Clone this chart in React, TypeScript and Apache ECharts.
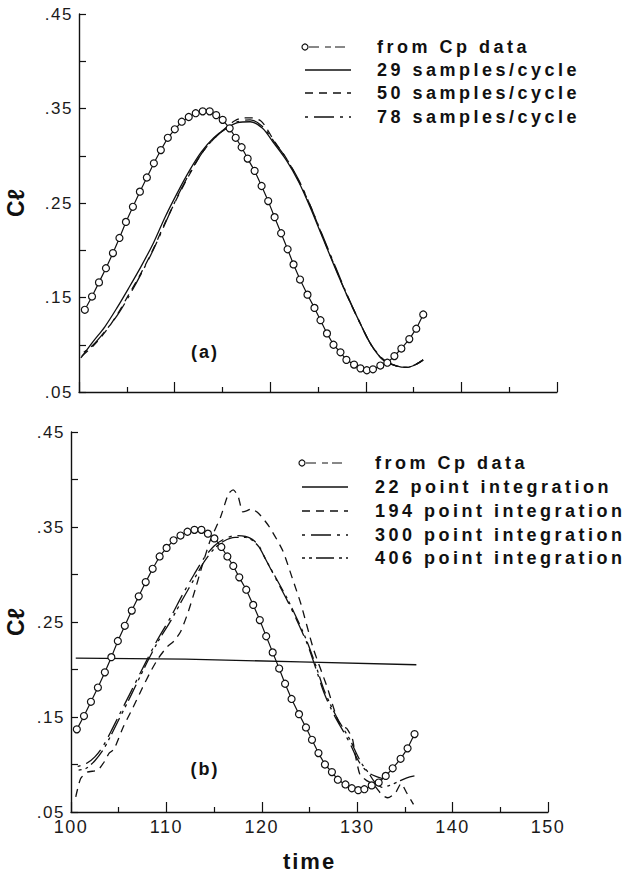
import React, { useEffect, useRef } from "react";
import * as echarts from "echarts";

// ---------- data ----------
const cpTime = [
  100.61, 101.36, 102.09, 102.82, 103.55, 104.23, 104.91, 105.64, 106.37, 107.1,
  107.83, 108.56, 109.29, 110.02, 110.75, 111.48, 112.21, 112.94, 113.67, 114.35,
  115.03, 115.76, 116.39, 117.01, 117.64, 118.37, 119.1, 119.79, 120.46, 121.14,
  121.82, 122.44, 123.12, 123.9, 124.63, 125.26, 125.94, 126.62, 127.35, 127.97,
  128.77, 129.44, 130.11, 130.75, 131.52, 132.25, 132.99, 133.72, 134.55, 135.28,
  136.01,
];
const cpValue = [
  0.137, 0.151, 0.166, 0.181, 0.197, 0.213, 0.23, 0.246, 0.262, 0.277,
  0.292, 0.306, 0.319, 0.328, 0.336, 0.341, 0.345, 0.347, 0.347, 0.343,
  0.338, 0.329, 0.319, 0.309, 0.297, 0.284, 0.268, 0.252, 0.235, 0.218,
  0.201, 0.185, 0.169, 0.153, 0.139, 0.126, 0.112, 0.1, 0.092, 0.084,
  0.079, 0.075, 0.073, 0.074, 0.078, 0.081, 0.088, 0.096, 0.106, 0.117,
  0.132,
];

const samples29 = [
  [100.2, 0.086], [101.45, 0.103], [102.7, 0.119], [103.97, 0.139], [105.2, 0.16],
  [106.5, 0.183], [107.8, 0.208], [109.0, 0.235], [110.3, 0.261], [111.6, 0.285],
  [112.8, 0.304], [114.1, 0.319], [115.4, 0.329], [116.6, 0.335], [117.9, 0.336],
  [119.2, 0.329], [120.4, 0.313], [121.7, 0.295], [123.0, 0.272], [124.2, 0.245],
  [125.5, 0.213], [126.8, 0.181], [128.0, 0.153], [129.3, 0.125], [130.5, 0.101],
  [131.8, 0.084], [133.1, 0.078], [134.3, 0.076], [135.2, 0.079], [136.0, 0.084],
];
const samples50 = [
  [100.3, 0.088], [101.5, 0.099], [102.7, 0.113], [104.0, 0.132], [105.2, 0.153],
  [106.5, 0.176], [107.8, 0.202], [109.0, 0.229], [110.3, 0.256], [111.6, 0.281],
  [112.8, 0.302], [114.1, 0.318], [115.4, 0.33], [116.3, 0.337], [117.2, 0.34],
  [118.2, 0.34], [119.0, 0.337], [119.5, 0.331], [120.4, 0.316], [121.7, 0.297],
  [123.0, 0.273], [124.2, 0.247], [125.5, 0.214], [126.8, 0.182], [128.0, 0.153],
  [129.3, 0.125], [130.5, 0.101], [131.8, 0.084], [133.1, 0.078], [134.3, 0.076],
  [135.2, 0.079], [136.0, 0.084],
];
const samples78 = [
  [100.5, 0.092], [101.5, 0.1], [102.7, 0.114], [104.0, 0.131], [105.2, 0.151],
  [106.5, 0.175], [107.8, 0.201], [109.0, 0.228], [110.3, 0.257], [111.6, 0.282],
  [112.8, 0.302], [114.1, 0.318], [115.4, 0.329], [116.6, 0.336], [117.9, 0.338],
  [119.2, 0.331], [120.4, 0.315], [121.7, 0.297], [123.0, 0.274], [124.2, 0.247],
  [125.5, 0.215], [126.8, 0.183], [128.0, 0.154], [129.3, 0.125], [130.5, 0.101],
  [131.8, 0.085], [133.1, 0.078], [134.3, 0.076], [135.2, 0.079], [136.0, 0.084],
];

const points22 = [[100.5, 0.212], [112.0, 0.211], [124.0, 0.208], [136.2, 0.205]];
const points194 = [
  [100.5, 0.066], [101.0, 0.085], [101.7, 0.092], [102.8, 0.094], [103.5, 0.103],
  [104.0, 0.112], [104.5, 0.116], [105.5, 0.14], [106.5, 0.16], [107.5, 0.181],
  [108.3, 0.197], [109.1, 0.211], [110.0, 0.223], [110.8, 0.23], [111.5, 0.24],
  [112.3, 0.261], [113.1, 0.287], [113.8, 0.311], [114.6, 0.336], [115.7, 0.361],
  [116.5, 0.385], [117.0, 0.389], [117.5, 0.383], [118.0, 0.366], [118.4, 0.367],
  [118.9, 0.369], [119.7, 0.364], [120.8, 0.35], [122.2, 0.325], [123.2, 0.296],
  [124.1, 0.269], [125.4, 0.222], [126.9, 0.18], [127.9, 0.148], [128.4, 0.14],
  [128.9, 0.138], [129.5, 0.127], [129.8, 0.11], [130.3, 0.089], [131.0, 0.083],
  [131.7, 0.079], [132.6, 0.068], [133.2, 0.065], [134.0, 0.07], [134.6, 0.08],
  [135.2, 0.07], [135.9, 0.058],
];
const points300 = [
  [100.7, 0.098], [101.6, 0.101], [102.5, 0.108], [103.4, 0.12], [104.2, 0.135],
  [104.9, 0.149], [106.3, 0.177], [107.8, 0.207], [109.1, 0.232], [110.5, 0.256],
  [111.7, 0.279], [112.9, 0.3], [114.0, 0.318], [115.0, 0.33], [116.0, 0.337],
  [117.2, 0.341], [118.3, 0.34], [119.0, 0.337], [119.7, 0.33], [120.4, 0.316],
  [121.5, 0.295], [122.7, 0.272], [123.8, 0.249], [124.8, 0.226], [125.7, 0.2],
  [126.5, 0.176], [127.2, 0.16], [127.9, 0.146], [128.6, 0.134], [129.3, 0.121],
  [130.0, 0.106], [130.7, 0.096], [131.4, 0.09], [132.1, 0.087], [132.7, 0.085],
];
const points406 = [
  [100.8, 0.094], [101.6, 0.096], [102.5, 0.104], [103.4, 0.116], [104.2, 0.131],
  [104.9, 0.145], [106.3, 0.173], [107.8, 0.204], [109.1, 0.229], [110.5, 0.252],
  [111.7, 0.274], [112.9, 0.295], [114.0, 0.314], [115.0, 0.327], [116.0, 0.335],
  [117.2, 0.339], [118.3, 0.339], [119.0, 0.336], [119.7, 0.329], [120.4, 0.316],
  [121.5, 0.296], [122.7, 0.274], [123.8, 0.251], [124.8, 0.228], [125.7, 0.203],
  [126.5, 0.179], [127.2, 0.163], [127.9, 0.149], [128.6, 0.137], [129.3, 0.125],
  [130.0, 0.11], [130.6, 0.099], [131.2, 0.091], [131.8, 0.082], [132.6, 0.076],
  [133.4, 0.078], [134.3, 0.082], [135.2, 0.086], [136.0, 0.088],
];

const topLegendLabels = ["from Cp data", "29 samples/cycle", "50 samples/cycle", "78 samples/cycle"];
const bottomLegendLabels = [
  "from Cp data",
  "22 point integration",
  "194 point integration",
  "300 point integration",
  "406 point integration",
];
const panelLabels = ["(a)", "(b)"];
const xAxisName = "time";
const yAxisName = "Cℓ";

// ---------- styles ----------
const INK = "#111";
const LEGEND_FONT = "'Liberation Sans', legendfont";
const TICK_FONT = "'Liberation Sans', tickfont";
const NAME_FONT = "'Liberation Sans', namefont";

const SOLID: number[] | "solid" = "solid";
const DASH = [8, 6];
const DASH_LONG = [3, 6, 20, 6];
const DASH_DOT_LONG = [3, 4, 3, 4, 18, 5];
const CP_DASH = [10, 6, 6, 4];

const css = `
body { margin: 0; }
text[style*="legendfont"] { letter-spacing: 3.5px; }
text[style*="tickfont"] { letter-spacing: 1.5px; }
text[style*="namefont"] { letter-spacing: 2px; }
`;

function yLabel(v: number) {
  const k = Math.round(v * 100);
  if (k % 10 !== 5) return "";
  return (k / 100).toFixed(2).replace(/^0/, "");
}

function makeYAxis(gridIndex: number, gap: number) {
  return {
    type: "value",
    gridIndex,
    min: 0.05,
    max: 0.45,
    interval: 0.05,
    name: yAxisName,
    nameLocation: "middle",
    nameRotate: 90,
    nameGap: gap,
    nameTextStyle: { fontSize: 23, fontWeight: "bold", color: INK, fontFamily: "'Liberation Sans', 'DejaVu Sans'" },
    axisLine: { show: true, lineStyle: { color: INK, width: 1.4 } },
    axisTick: { show: true, inside: true, length: 7, lineStyle: { color: INK, width: 1.2 } },
    axisLabel: {
      show: true,
      formatter: yLabel,
      fontSize: 17,
      color: "#1a1a1a",
      fontFamily: TICK_FONT,
      margin: 6,
    },
    splitLine: { show: false },
  };
}

function makeXAxis(gridIndex: number, withLabels: boolean) {
  return {
    type: "value",
    gridIndex,
    min: 100,
    max: 150,
    interval: 10,
    name: withLabels ? xAxisName : "",
    nameLocation: "middle",
    nameGap: 38,
    nameTextStyle: { fontSize: 22, fontWeight: "bold", color: INK, fontFamily: NAME_FONT },
    axisLine: { show: true, onZero: false, lineStyle: { color: INK, width: 1.4 } },
    axisTick: { show: true, inside: true, length: 10, lineStyle: { color: INK, width: 1.2 } },
    minorTick: { show: true, splitNumber: 2, length: 5, lineStyle: { color: INK, width: 1.2 } },
    axisLabel: {
      show: withLabels,
      fontSize: 18,
      color: "#1a1a1a",
      fontFamily: TICK_FONT,
      margin: 6,
    },
    splitLine: { show: false },
    minorSplitLine: { show: false },
  };
}

function curve(name: string, data: number[][], idx: number, dash: any, smooth = 0.3) {
  return {
    name,
    type: "line",
    xAxisIndex: idx,
    yAxisIndex: idx,
    data,
    showSymbol: false,
    symbol: "none",
    smooth,
    lineStyle: { color: INK, width: 1.3, type: dash },
    z: 2,
  };
}

function cpSeries(idx: number) {
  return {
    name: "from Cp data",
    type: "line",
    xAxisIndex: idx,
    yAxisIndex: idx,
    data: cpTime.map((t, i) => [t, cpValue[i]]),
    symbol: "circle",
    symbolSize: 7,
    showSymbol: true,
    itemStyle: { color: "#fff", borderColor: INK, borderWidth: 1.2 },
    lineStyle: { color: INK, width: 1.2 },
    z: 5,
  };
}

function legendBlock(labels: string[], dashes: any[], x1: number, x2: number, textX: number, ys: number[]) {
  const els: any[] = [];
  labels.forEach((label, i) => {
    const y = ys[i];
    if (i === 0) {
      els.push({
        type: "circle",
        shape: { cx: x1, cy: y, r: 3 },
        style: { fill: "#fff", stroke: INK, lineWidth: 1.2 },
      });
      els.push({
        type: "line",
        shape: { x1: x1 + 4, y1: y, x2: x2, y2: y },
        style: { stroke: INK, lineWidth: 1, lineDash: CP_DASH },
      });
    } else {
      const d = dashes[i];
      els.push({
        type: "line",
        shape: { x1: x1, y1: y, x2: x2, y2: y },
        style: { stroke: INK, lineWidth: 1.3, lineDash: d === "solid" ? null : d },
      });
    }
    els.push({
      type: "text",
      x: textX,
      y,
      style: {
        text: label,
        fontSize: 18,
        fontWeight: "bold",
        fontFamily: LEGEND_FONT,
        fill: INK,
        textAlign: "left",
        textVerticalAlign: "middle",
      },
    });
  });
  return els;
}

export default function App() {
  const ref = useRef<HTMLDivElement>(null);

  useEffect(() => {
    if (!ref.current) return;
    const chart = echarts.init(ref.current, undefined, { renderer: "svg" });

    const panelText = (text: string, y: number) => ({
      type: "text",
      x: 205,
      y,
      style: {
        text,
        fontSize: 18,
        fontWeight: "bold",
        fontFamily: NAME_FONT,
        fill: INK,
        textAlign: "center",
        textVerticalAlign: "middle",
      },
    });

    const graphic = [
      ...legendBlock(topLegendLabels, [null, SOLID, DASH, DASH_LONG], 305, 351, 377, [47, 70, 93, 117]),
      ...legendBlock(
        bottomLegendLabels,
        [null, SOLID, DASH, DASH_LONG, DASH_DOT_LONG],
        302,
        348,
        375,
        [463, 487, 511, 535, 558]
      ),
      panelText(panelLabels[0], 352),
      panelText(panelLabels[1], 769),
    ];

    chart.setOption({
      animation: false,
      backgroundColor: "#fff",
      grid: [
        { left: 79, top: 14, width: 478, height: 378, outerBoundsMode: "none", containLabel: false },
        { left: 71, top: 432, width: 477, height: 380, outerBoundsMode: "none", containLabel: false },
      ],
      xAxis: [makeXAxis(0, false), makeXAxis(1, true)],
      yAxis: [makeYAxis(0, 52), makeYAxis(1, 44)],
      series: [
        curve("29 samples/cycle", samples29, 0, SOLID),
        curve("50 samples/cycle", samples50, 0, DASH),
        curve("78 samples/cycle", samples78, 0, DASH_LONG),
        cpSeries(0),
        curve("22 point integration", points22, 1, SOLID, 0),
        curve("194 point integration", points194, 1, DASH, 0.2),
        curve("300 point integration", points300, 1, DASH_LONG),
        curve("406 point integration", points406, 1, DASH_DOT_LONG),
        cpSeries(1),
      ],
      graphic,
    });

    return () => chart.dispose();
  }, []);

  return (
    <>
      <style>{css}</style>
      <div ref={ref} style={{ width: 630, height: 880 }} />
    </>
  );
}
